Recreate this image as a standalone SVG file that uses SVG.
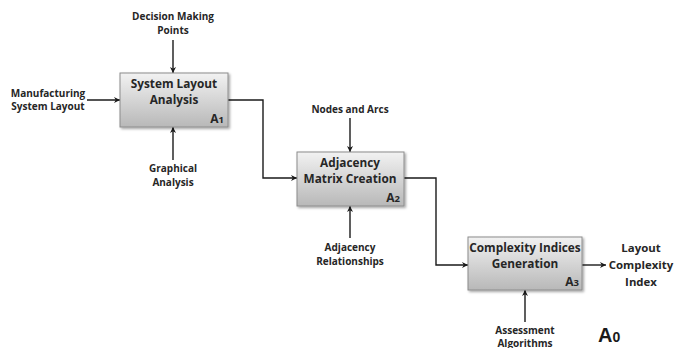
<svg xmlns="http://www.w3.org/2000/svg" width="681" height="348" viewBox="0 0 681 348">
  <style>
    .lbl { font-family: "Open Sans", "Liberation Sans", sans-serif; font-weight: bold; font-size: 10px; fill: #262626; text-anchor: middle; }
    .ttl { font-family: "Open Sans", "Liberation Sans", sans-serif; font-weight: bold; font-size: 11.8px; fill: #262626; text-anchor: middle; }
    .out { font-family: "Open Sans", "Liberation Sans", sans-serif; font-weight: bold; font-size: 11.4px; fill: #262626; text-anchor: middle; }
    .num { font-family: "Open Sans", "Liberation Sans", sans-serif; font-weight: bold; font-size: 12px; fill: #262626; text-anchor: end; }
    .box { fill: url(#boxFill); stroke: #8c8c8c; stroke-width: 1; filter: url(#shadow); }
    .wire { fill: none; stroke: #1a1a1a; stroke-width: 1.4; marker-end: url(#arrow); }
  </style>
  <defs>
    <linearGradient id="boxFill" x1="0" y1="0" x2="0" y2="1">
      <stop offset="0" stop-color="#f2f2f2"/>
      <stop offset="1" stop-color="#b8b8b8"/>
    </linearGradient>
    <filter id="shadow" x="-10%" y="-10%" width="125%" height="130%">
      <feDropShadow dx="1.5" dy="1.5" stdDeviation="1" flood-color="#000" flood-opacity="0.35"/>
    </filter>
    <marker id="arrow" viewBox="0 0 10 10" refX="10" refY="5" markerWidth="6" markerHeight="6" markerUnits="userSpaceOnUse" orient="auto">
      <path d="M0,0 L10,5 L0,10 L3,5 Z" fill="#1a1a1a"/>
    </marker>
  </defs>

  <rect width="681" height="348" fill="#ffffff"/>

  <g id="connectors">
    <!-- A1 control, input and mechanism -->
    <path class="wire" d="M173,40 V73"/>
    <path class="wire" d="M87,100 H120"/>
    <path class="wire" d="M173,160 V127"/>
    <!-- A1 to A2 -->
    <path class="wire" d="M228,100 H263 V178 H297"/>
    <!-- A2 control and mechanism -->
    <path class="wire" d="M350,118 V152"/>
    <path class="wire" d="M350,238 V206"/>
    <!-- A2 to A3 -->
    <path class="wire" d="M404,178 H436 V265 H468"/>
    <!-- A3 mechanism and output -->
    <path class="wire" d="M525,322 V290"/>
    <path class="wire" d="M582,265 H606"/>
  </g>

  <g id="A1">
    <rect class="box" x="120" y="73" width="108" height="54"/>
    <text class="ttl" x="174" y="88">System Layout</text>
    <text class="ttl" x="174" y="104">Analysis</text>
    <text class="num" x="224" y="123">A<tspan font-size="9.5">1</tspan></text>
  </g>

  <g id="A2">
    <rect class="box" x="297" y="152" width="107" height="54"/>
    <text class="ttl" x="350" y="167">Adjacency</text>
    <text class="ttl" x="350" y="183">Matrix Creation</text>
    <text class="num" x="400" y="202">A<tspan font-size="9.5">2</tspan></text>
  </g>

  <g id="A3">
    <rect class="box" x="468" y="237" width="114" height="53"/>
    <text class="ttl" x="525" y="252">Complexity Indices</text>
    <text class="ttl" x="525" y="268">Generation</text>
    <text class="num" x="579" y="286">A<tspan font-size="9.5">3</tspan></text>
  </g>

  <g id="label-decision">
    <text class="lbl" x="173" y="20">Decision Making</text>
    <text class="lbl" x="173" y="34">Points</text>
  </g>
  <g id="label-manufacturing">
    <text class="lbl" x="48" y="97">Manufacturing</text>
    <text class="lbl" x="48" y="110">System Layout</text>
  </g>
  <g id="label-graphical">
    <text class="lbl" x="173" y="172">Graphical</text>
    <text class="lbl" x="173" y="186">Analysis</text>
  </g>
  <g id="label-nodes">
    <text class="lbl" x="350" y="113">Nodes and Arcs</text>
  </g>
  <g id="label-adjacency">
    <text class="lbl" x="350" y="251">Adjacency</text>
    <text class="lbl" x="350" y="265">Relationships</text>
  </g>
  <g id="label-assessment">
    <text class="lbl" x="525" y="334">Assessment</text>
    <text class="lbl" x="525" y="347">Algorithms</text>
  </g>
  <g id="label-output">
    <text class="out" x="641" y="252">Layout</text>
    <text class="out" x="641" y="269">Complexity</text>
    <text class="out" x="641" y="286">Index</text>
  </g>

  <g id="diagram-number">
    <text x="598" y="342" font-family="Liberation Sans, Arial, sans-serif" font-weight="bold" font-size="20" fill="#1a1a1a">A<tspan font-size="14">0</tspan></text>
  </g>
</svg>
